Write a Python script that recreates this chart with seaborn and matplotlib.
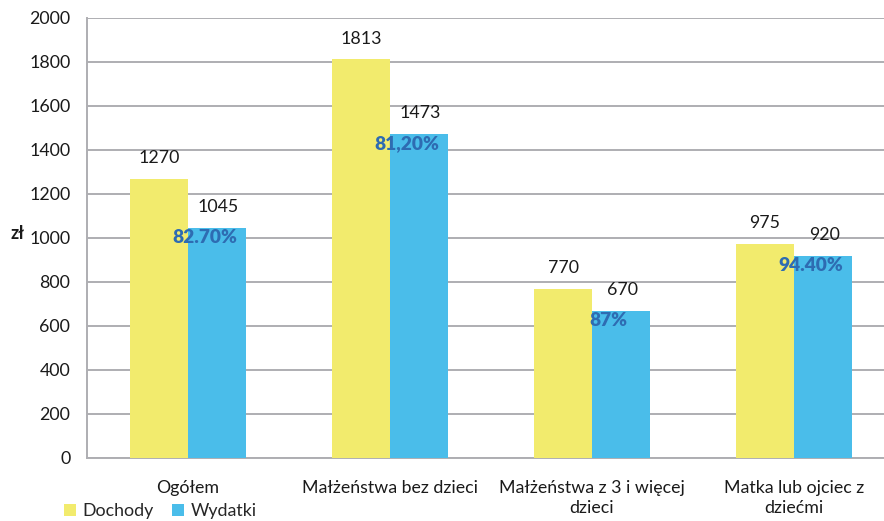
import matplotlib
matplotlib.use("Agg")
import matplotlib.pyplot as plt
from matplotlib.patches import Patch
import seaborn as sns
import pandas as pd

categories = ["Ogółem", "Małżeństwa bez dzieci", "Małżeństwa z 3 i więcej\ndzieci", "Matka lub ojciec z\ndziećmi"]
dochody = [1270, 1813, 770, 975]
wydatki = [1045, 1473, 670, 920]
udzial = ["82.70%", "81,20%", "87%", "94.40%"]
series = ["Dochody", "Wydatki"]
yticks = [0, 200, 400, 600, 800, 1000, 1200, 1400, 1600, 1800, 2000]

df = pd.DataFrame({
    "kategoria": categories * 2,
    "seria": [series[0]] * 4 + [series[1]] * 4,
    "wartosc": dochody + wydatki,
})

sns.set_theme(style="white")
plt.rcParams["font.family"] = ["Lato", "DejaVu Sans"]

colors = {"Dochody": "#F2EB6D", "Wydatki": "#4ABDEA"}
grid_c = "#AEAEB2"
txt_c = "#1a1a1a"
fs = 12.8

W, H = 884, 521
fig = plt.figure(figsize=(W / 100, H / 100), dpi=100)
ax = fig.add_axes([87 / W, (H - 458) / H, (895 - 87) / W, (458 - 18) / H])

sns.barplot(data=df, x="kategoria", y="wartosc", hue="seria", order=categories,
            hue_order=series, palette=colors, width=0.574, saturation=1,
            linewidth=0, edgecolor="none", legend=False, ax=ax, zorder=3)

ax.set_xlim(-0.5, 3.5)
ax.set_ylim(0, 2000)
ax.set_yticks(yticks)
ax.set_yticklabels([str(v) for v in yticks], fontsize=fs, color=txt_c)
ax.yaxis.grid(True, color=grid_c, linewidth=1.4, zorder=0)
ax.set_axisbelow(True)
ax.set_xlabel("")
ax.set_ylabel("zł", rotation=0, fontsize=fs, fontweight="bold", color=txt_c)
ax.yaxis.set_label_coords(-0.086, 0.5 - 0.01)

ax.set_xticks(range(len(categories)))
ax.set_xticklabels(categories, fontsize=fs, color=txt_c, linespacing=1.3)
ax.tick_params(axis="x", which="major", length=0, pad=16)
ax.set_xticks([-0.5, 0.5, 1.5, 2.5, 3.5], minor=True)
ax.tick_params(axis="x", which="minor", length=6, width=1.2, color=grid_c, direction="out")
ax.tick_params(axis="y", length=6, width=1.2, color=grid_c, direction="out", pad=6)

for s in ["top", "right"]:
    ax.spines[s].set_visible(False)
for s in ["left", "bottom"]:
    ax.spines[s].set_color(grid_c)
    ax.spines[s].set_linewidth(1.4)

# value labels above bars and share labels inside the expense bars
bw = 0.574 / 2
for i in range(len(categories)):
    x_d = i - bw / 2
    x_w = i + bw / 2
    ax.annotate(str(dochody[i]), (x_d, dochody[i]), xytext=(0, 14.5),
                textcoords="offset points", ha="center", va="center",
                fontsize=fs, color=txt_c)
    ax.annotate(str(wydatki[i]), (x_w, wydatki[i]), xytext=(1, 15),
                textcoords="offset points", ha="center", va="center",
                fontsize=fs, color=txt_c)
    ax.annotate(udzial[i], (x_w, wydatki[i]), xytext=(-9, -7),
                textcoords="offset points", ha="center", va="center",
                fontsize=13.8, fontweight="heavy", color="#2E6CB2", zorder=5)

handles = [Patch(facecolor=colors[s], edgecolor="none") for s in series]
fig.legend(handles, series, loc="upper left", bbox_to_anchor=(64 / W, 1 - 503 / H),
           ncol=2, frameon=False, fontsize=fs, handlelength=0.7, handleheight=0.7,
           handletextpad=0.35, columnspacing=1.0, borderaxespad=0, borderpad=0)

fig.savefig("out.png", dpi=100)
